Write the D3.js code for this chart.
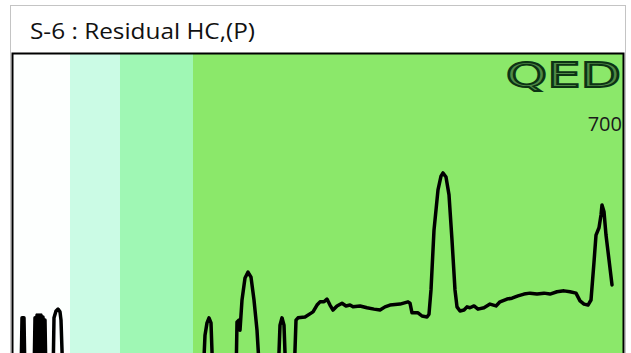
<!DOCTYPE html>
<html>
<head>
<meta charset="utf-8">
<script src="https://cdn.jsdelivr.net/npm/d3@7"></script>
<style>
  html, body { margin: 0; padding: 0; background: #ffffff; }
  svg { display: block; }
</style>
</head>
<body>
<svg id="chart" width="631" height="353"></svg>
<script>
const W = 631, H = 353;

// DATA
const title = "S-6 : Residual HC,(P)";
const scaleLabel = "700";
const logoText = "QED";

// zone limits along the time axis
const bandStarts = [0, 57, 107, 180];
const bandEnds = [57, 107, 180, 610];
const bandColors = ["#fdfffe", "#cbfbe5", "#9ff7b4", "#8be86a"];

// trace: time / value
const traceX = [8, 9, 11, 12, 21, 22, 23, 24, 25, 26, 27, 28, 29, 30, 31, 32, 33,
  40, 41, 43, 45, 47, 48, 50,
  190, 192, 194, 196, 198, 200,
  223, 224, 226, 227, 229, 232, 235, 238, 241, 244, 247,
  265, 267, 269, 271, 273,
  281, 283, 285, 292, 300, 304, 307, 311, 314, 317, 320, 324, 329, 333, 337, 340,
  347, 354, 361, 367, 372, 377, 387, 395, 397, 399, 405, 409, 414, 416, 418, 421,
  425, 428, 430, 433, 436, 439, 442, 444, 447, 451, 454, 457, 461, 465, 471, 477,
  483, 487, 494, 499, 505, 511, 517, 524, 531, 537, 544, 551, 557, 563, 567, 571,
  575, 578, 581, 583, 586, 588, 589, 591, 593, 596, 599];
const traceY = [0, 136, 136, 0, 0, 136, 0, 142, 0, 142, 0, 142, 0, 138, 0, 131, 0,
  0, 136, 151, 155, 149, 131, 0,
  0, 98, 125, 136, 125, 0,
  0, 127, 131, 109, 175, 223, 236, 225, 175, 109, 0,
  0, 120, 136, 120, 0,
  0, 131, 136, 138, 149, 164, 171, 171, 177, 164, 153, 162, 168, 162, 164, 160,
  162, 158, 155, 153, 160, 164, 166, 171, 168, 147, 147, 140, 138, 144, 197, 328,
  416, 446, 453, 444, 405, 306, 197, 160, 151, 153, 160, 158, 162, 155, 158, 166,
  162, 171, 177, 179, 184, 188, 190, 188, 190, 188, 193, 195, 193, 190, 173, 166,
  164, 175, 258, 317, 333, 361, 383, 368, 317, 263, 208];

const trace = traceX.map((t, i) => ({ t: t, v: traceY[i] }));
const bands = bandStarts.map((s, i) => ({ s: s, e: bandEnds[i], color: bandColors[i] }));

// LAYOUT
const plot = { left: 13, right: 623, top: 54, bottom: 380 };

const svg = d3.select("#chart");

// title panel
svg.append("rect")
  .attr("x", 10.5).attr("y", 5.5)
  .attr("width", 615).attr("height", 360)
  .attr("fill", "#ffffff")
  .attr("stroke", "#c4c4c4")
  .attr("stroke-width", 1);

svg.append("text")
  .attr("x", 30).attr("y", 38.5)
  .attr("font-family", "'Open Sans', Lato, sans-serif")
  .attr("font-size", 21)
  .attr("textLength", 225)
  .attr("lengthAdjust", "spacingAndGlyphs")
  .attr("fill", "#111111")
  .text(title);

// SCALES
const x = d3.scaleLinear()
  .domain([0, 610])
  .range([plot.left, plot.right]);

const y = d3.scaleLinear()
  .domain([0, 700])
  .range([plot.bottom, 60]);

const defs = svg.append("defs");
defs.append("clipPath").attr("id", "plotClip")
  .append("rect")
  .attr("x", plot.left).attr("y", plot.top)
  .attr("width", plot.right - plot.left)
  .attr("height", plot.bottom - plot.top);

const gPlot = svg.append("g").attr("clip-path", "url(#plotClip)");

// zones
gPlot.selectAll("rect.band")
  .data(bands)
  .join("rect")
  .attr("class", "band")
  .attr("x", d => x(d.s))
  .attr("width", d => x(d.e) - x(d.s))
  .attr("y", plot.top)
  .attr("height", plot.bottom - plot.top)
  .attr("fill", d => d.color);

// logo, drawn as outlined letters
gPlot.append("text")
  .attr("transform", "translate(621,86.5) scale(1.55,1)")
  .attr("text-anchor", "end")
  .attr("font-family", "'DejaVu Sans', sans-serif")
  .attr("font-size", 34)
  .attr("fill", "#4f8a45")
  .attr("stroke", "#0c3314")
  .attr("stroke-width", 1.8)
  .text(logoText);

gPlot.append("text")
  .attr("x", 622).attr("y", 131)
  .attr("text-anchor", "end")
  .attr("font-family", "'Open Sans', Lato, sans-serif")
  .attr("font-size", 20)
  .attr("fill", "#1a1a1a")
  .text(scaleLabel);

// trace
const line = d3.line()
  .x(d => x(d.t))
  .y(d => y(d.v));

gPlot.append("path")
  .datum(trace)
  .attr("d", line)
  .attr("fill", "none")
  .attr("stroke", "#000000")
  .attr("stroke-width", 3.5)
  .attr("stroke-linejoin", "round")
  .attr("stroke-linecap", "round");

// plot frame
svg.append("path")
  .attr("d", `M${plot.left - 0.5},${H + 5}V${plot.top - 0.5}H${plot.right + 0.5}V${H + 5}`)
  .attr("fill", "none")
  .attr("stroke", "#000000")
  .attr("stroke-width", 2);
</script>
</body>
</html>
